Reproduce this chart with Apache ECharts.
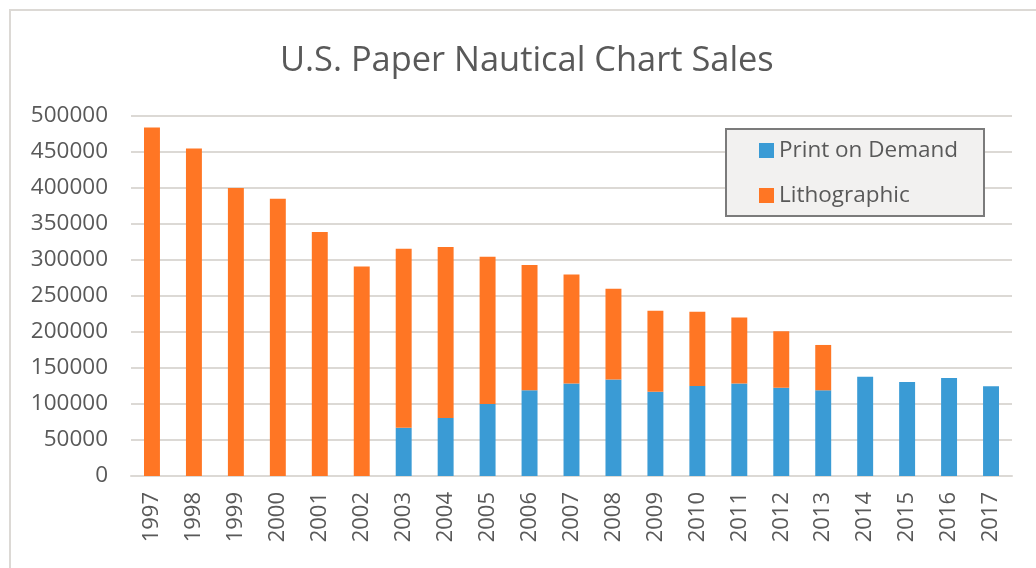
<!DOCTYPE html>
<html>
<head>
<meta charset="utf-8">
<title>U.S. Paper Nautical Chart Sales</title>
<script src="https://cdn.jsdelivr.net/npm/echarts@6/dist/echarts.min.js"></script>
<style>
  html, body { margin: 0; padding: 0; background: #fff; }
  #chart { width: 1036px; height: 568px; }
</style>
</head>
<body>
<div id="chart"></div>
<script>
  // data
  var years = ['1997', '1998', '1999', '2000', '2001', '2002', '2003', '2004', '2005', '2006', '2007',
    '2008', '2009', '2010', '2011', '2012', '2013', '2014', '2015', '2016', '2017'];
  var printOnDemand = [null, null, null, null, null, null, 67000, 80500, 100000, 119000, 128500,
    134000, 117000, 125000, 128500, 122500, 119000, 138000, 130500, 136000, 124500];
  var lithographic = [484000, 455000, 400000, 385000, 339000, 291000, 248500, 237500, 204500, 174000, 151500,
    126000, 112500, 103000, 91500, 78500, 63000, null, null, null, null];
  var yTicks = [0, 50000, 100000, 150000, 200000, 250000, 300000, 350000, 400000, 450000, 500000];

  var font = 'Open Sans';
  var textColor = '#595959';
  var gridColor = '#dcd9d5';

  var chart = echarts.init(document.getElementById('chart'));
  chart.setOption({
    animation: false,
    backgroundColor: '#fff',
    // 标题
    title: {
      text: 'U.S. Paper Nautical Chart Sales',
      left: 275,
      top: 39,
      textStyle: {
        color: textColor,
        fontFamily: font,
        fontWeight: 'normal',
        fontSize: 34.4
      }
    },
    graphic: [{
      type: 'rect',
      z: -10,
      shape: { x: 10, y: 10, width: 1100, height: 1000 },
      style: { fill: 'none', stroke: '#dcd9d5', lineWidth: 2 }
    }, {
      type: 'rect',
      z: 3,
      shape: { x: 726, y: 129, width: 258, height: 87 },
      style: { fill: '#f2f1f0', stroke: '#7b7b7b', lineWidth: 2 }
    }],
    // 图例
    legend: {
      orient: 'vertical',
      left: 759,
      top: 139,
      padding: 0,
      itemGap: 22,
      itemWidth: 15,
      itemHeight: 15,
      icon: 'rect',
      textStyle: {
        color: textColor,
        fontFamily: font,
        fontSize: 22.5,
        lineHeight: 20
      },
      data: ['Print on Demand', 'Lithographic']
    },
    grid: {
      left: 131,
      right: 24,
      top: 116,
      bottom: 92
    },
    // X轴
    xAxis: {
      type: 'category',
      data: years,
      axisLine: { lineStyle: { color: gridColor, width: 2 } },
      axisTick: { length: 9, lineStyle: { color: gridColor, width: 2 } },
      axisLabel: {
        rotate: 90,
        interval: 0,
        margin: 16,
        color: textColor,
        fontFamily: font,
        fontSize: 22
      }
    },
    // Y轴
    yAxis: {
      type: 'value',
      min: yTicks[0],
      max: yTicks[yTicks.length - 1],
      interval: yTicks[1] - yTicks[0],
      axisLine: { show: false },
      axisTick: { show: false },
      splitLine: { lineStyle: { color: gridColor, width: 2 } },
      axisLabel: {
        margin: 23,
        color: textColor,
        fontFamily: font,
        fontSize: 22.5,
        formatter: function(v) {
          return String(v);
        }
      }
    },
    series: [{
      name: 'Print on Demand',
      type: 'bar',
      stack: 'sales',
      barWidth: '38%',
      itemStyle: { color: '#3a9bd5' },
      data: printOnDemand
    }, {
      name: 'Lithographic',
      type: 'bar',
      stack: 'sales',
      barWidth: '38%',
      itemStyle: { color: '#ff7624' },
      data: lithographic
    }]
  });
</script>
</body>
</html>
